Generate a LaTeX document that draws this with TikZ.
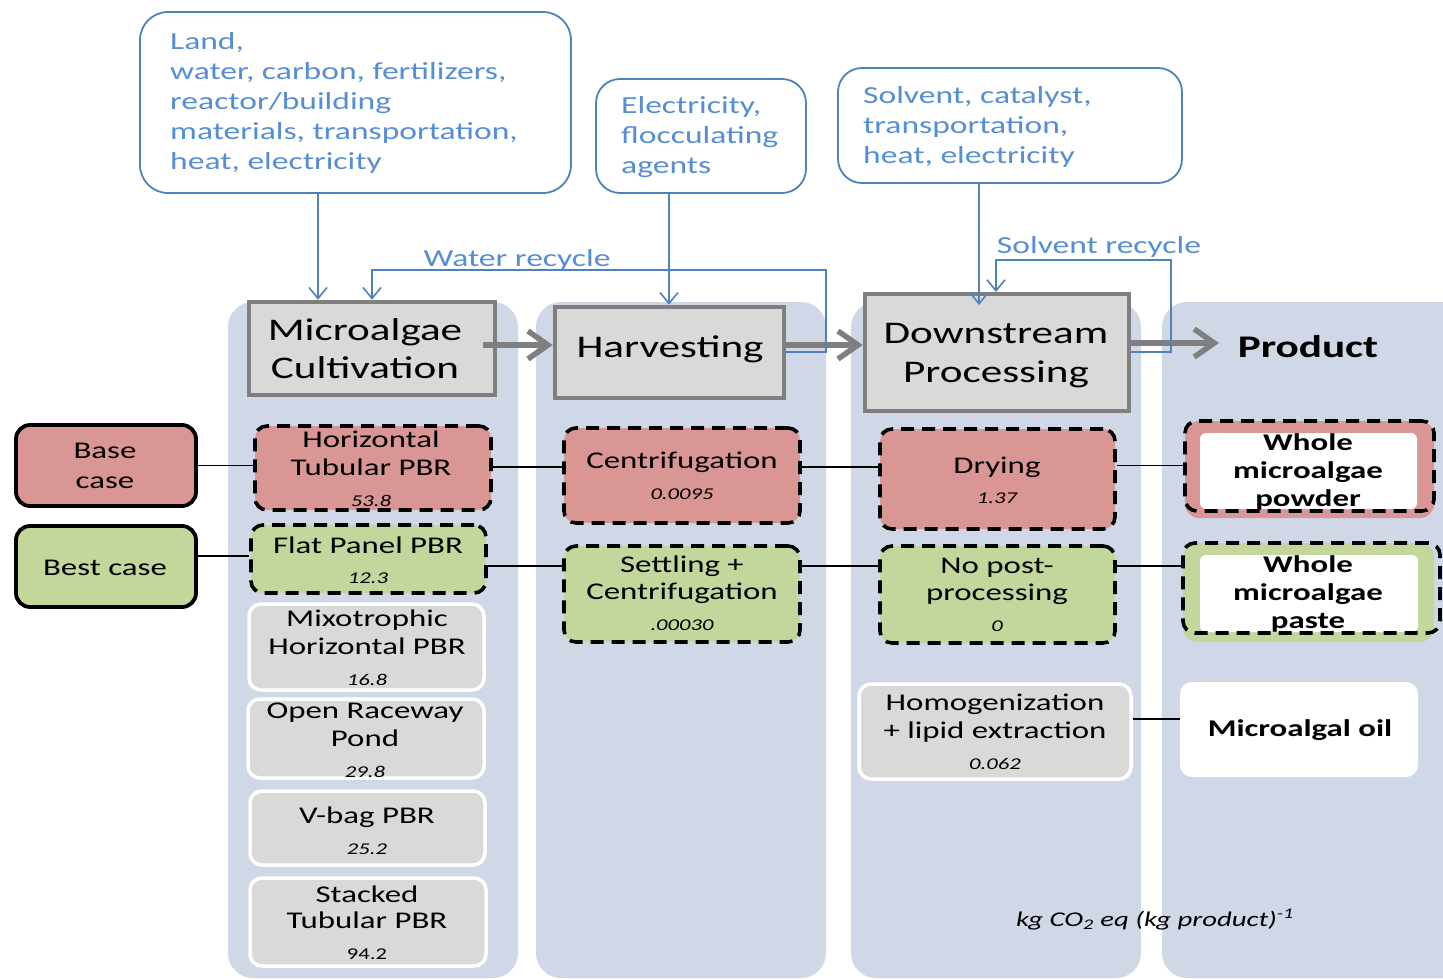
\documentclass[tikz,border=0pt]{standalone}
\usepackage{fontspec}
\setmainfont{Carlito}[FakeStretch=1.37]
\usetikzlibrary{arrows.meta}
\definecolor{colbg}{HTML}{D0D8E8}
\definecolor{boxgray}{HTML}{D9D9D9}
\definecolor{bordgray}{HTML}{7F7F7F}
\definecolor{bluel}{HTML}{4F81BD}
\definecolor{bluet}{HTML}{558ED5}
\definecolor{redf}{HTML}{D99694}
\definecolor{greenf}{HTML}{C3D69B}
\newcommand\fM{\fontsize{24}{28}\selectfont}
\newcommand\fBg{\fontsize{31.5}{38}\selectfont}
\newcommand\fNm{\fontsize{16.5}{18}\selectfont\itshape}
\newcommand\fNu{\fontsize{16.5}{18}\selectfont}
\newcommand\fTb{\fontsize{24.5}{30}\selectfont}
\newcommand\mkbox[6]{\node[#1, minimum width={#5-#3}, minimum height={#6-#4}] (#2) at ({(#3+#5)/2},{(#4+#6)/2}) {};}
\newcommand\tline[5]{\node[anchor=base, inner sep=0pt, font=#1] (#2) at (#3,#4) {#5};}
\newcommand\tlinew[5]{\node[anchor=base west, inner sep=0pt, font=#1, text=bluet] (#2) at (#3,#4) {#5};}
\begin{document}
\begin{tikzpicture}[x=1pt,y=-1pt,
  col/.style={fill=colbg, rounded corners=25pt},
  mainbox/.style={draw=bordgray, line width=4.5pt, fill=boxgray, inner sep=0pt},
  inbox/.style={draw=bluel, line width=1.8pt, fill=white, rounded corners=28pt, inner sep=0pt},
  casebox/.style={draw=black, line width=3.8pt, rounded corners=14pt, inner sep=0pt},
  dashbox/.style={draw=black, line width=3.6pt, dash pattern=on 13pt off 8pt, rounded corners=12pt, inner sep=0pt},
  graybox/.style={fill=boxgray, draw=white, line width=3.5pt, rounded corners=12pt, inner sep=0pt},
  plainfill/.style={rounded corners=#1, inner sep=0pt},
  conn/.style={draw=black, line width=1.5pt},
  blueln/.style={draw=bluel, line width=1.6pt},
  bluearr/.style={blueln, -{Straight Barb[length=11pt,width=18pt]}},
  grayarr/.style={draw=bordgray, line width=5.5pt, -{Straight Barb[length=20pt,width=28pt]}}
]
\useasboundingbox (0,0) rectangle (1443,979);
\fill[white] (0,0) rectangle (1443,979);
% columns
\fill[col] (228,302) rectangle (518,978);
\fill[col] (536,302) rectangle (826,978);
\fill[col] (851,302) rectangle (1141,978);
\fill[col] (1162,302) rectangle (1480,978);

% input boxes
\mkbox{inbox}{in1}{140}{12}{571}{193}
\mkbox{inbox, rounded corners=24pt}{in2}{596}{79}{806}{193}
\mkbox{inbox, rounded corners=24pt}{in3}{838}{68}{1182}{183}
\tlinew{\fTb}{in1a}{170}{50}{Land,}
\tlinew{\fTb}{in1b}{170}{80}{water, carbon, fertilizers,}
\tlinew{\fTb}{in1c}{170}{110}{reactor/building}
\tlinew{\fTb}{in1d}{170}{140}{materials, transportation,}
\tlinew{\fTb}{in1e}{170}{170}{heat, electricity}
\tlinew{\fTb}{in2a}{621}{114}{Electricity,}
\tlinew{\fTb}{in2b}{621}{144}{flocculating}
\tlinew{\fTb}{in2c}{621}{174}{agents}
\tlinew{\fTb}{in3a}{863}{104}{Solvent, catalyst,}
\tlinew{\fTb}{in3b}{863}{134}{transportation,}
\tlinew{\fTb}{in3c}{863}{164}{heat, electricity}

% main process boxes
\mkbox{mainbox}{cult}{249}{302}{495}{395}
\mkbox{mainbox}{harv}{555}{307}{784}{398}
\mkbox{mainbox}{down}{865}{294}{1129}{411}
\tline{\fBg}{cultA}{365}{340}{Microalgae}
\tline{\fBg}{cultB}{365}{378}{Cultivation}
\tline{\fBg}{harvA}{670}{357}{Harvesting}
\tline{\fBg}{downA}{996}{343}{Downstream}
\tline{\fBg}{downB}{996}{382}{Processing}
\tline{\fBg\bfseries}{prod}{1308}{357}{Product}

% helper coordinates
\coordinate (x318) at (318,0);
\coordinate (x372) at (372,0);
\coordinate (x669) at (669,0);
\coordinate (x979) at (979,0);
\coordinate (x996) at (996,0);
\coordinate (wy) at (0,352);
\coordinate (g1) at (483,345);
\coordinate (g2) at (786,345);
\coordinate (g3) at (1131,343);
\coordinate (g3e) at (1219,343);

% gray flow arrows
\draw[grayarr] (g1) -- (g1 -| harv.west);
\draw[grayarr] (g2) -- (g2 -| down.west);
\draw[grayarr] (g3) -- (g3e);

% blue arrows
\draw[bluearr] (in1.south -| x318) -- (cult.north -| x318);
\draw[bluearr] (harv.east |- wy) -- (826,352) -- (826,270) -- (372,270) -- (cult.north -| x372);
\draw[bluearr] (in2.south -| x669) -- (harv.north -| x669);
\draw[bluearr] (in3.south -| x979) -- (979,305);
\draw[bluearr] (down.east |- wy) -- (1171,352) -- (1171,260) -- (996,260) -- (996,292);
\node[anchor=base, inner sep=0pt, font=\fTb, text=bluet] (wrec) at (517,266) {Water recycle};
\node[anchor=base, inner sep=0pt, font=\fTb, text=bluet] (srec) at (1099,253) {Solvent recycle};

% case boxes
\mkbox{casebox, fill=redf}{base}{16}{425}{196}{506}
\mkbox{casebox, fill=greenf}{best}{16}{526}{196}{607}
\tline{\fM}{baseA}{105}{458}{Base}
\tline{\fM}{baseB}{105}{488}{case}
\tline{\fM}{bestA}{105}{575}{Best case}

% cultivation options
\mkbox{dashbox, fill=redf}{htp}{255}{426}{491}{510}
\mkbox{dashbox, fill=greenf}{fp}{251}{525}{486}{593}
\mkbox{graybox}{mixo}{249}{604}{484}{690}
\mkbox{graybox}{orp}{248}{699}{484}{778}
\mkbox{graybox}{vbag}{250}{791}{485}{865}
\mkbox{graybox}{stk}{250}{878}{486}{966}
\tline{\fM}{htpA}{371}{447}{Horizontal}
\tline{\fM}{htpB}{371}{475}{Tubular PBR}
\tline{\fNm}{htpC}{371}{506}{53.8}
\tline{\fM}{fpA}{368}{553}{Flat Panel PBR}
\tline{\fNm}{fpB}{368}{583}{12.3}
\tline{\fM}{mixoA}{367}{626}{Mixotrophic}
\tline{\fM}{mixoB}{367}{654}{Horizontal PBR}
\tline{\fNm}{mixoC}{367}{685}{16.8}
\tline{\fM}{orpA}{365}{718}{Open Raceway}
\tline{\fM}{orpB}{365}{746}{Pond}
\tline{\fNm}{orpC}{365}{777}{29.8}
\tline{\fM}{vbagA}{367}{823}{V-bag PBR}
\tline{\fNm}{vbagB}{367}{854}{25.2}
\tline{\fM}{stkA}{367}{902}{Stacked}
\tline{\fM}{stkB}{367}{928}{Tubular PBR}
\tline{\fNu}{stkC}{367}{959}{94.2}

% harvesting options
\mkbox{dashbox, fill=redf}{cen}{564}{428}{800}{523}
\mkbox{dashbox, fill=greenf}{set}{564}{546}{800}{642}
\tline{\fM}{cenA}{682}{468}{Centrifugation}
\tline{\fNm}{cenB}{682}{499}{0.0095}
\tline{\fM}{setA}{682}{572}{Settling +}
\tline{\fM}{setB}{682}{599}{Centrifugation}
\tline{\fNm}{setC}{682}{630}{.00030}

% downstream options
\mkbox{dashbox, fill=redf}{dry}{880}{429}{1115}{529}
\mkbox{dashbox, fill=greenf}{nop}{880}{546}{1115}{643}
\mkbox{graybox}{hom}{859}{684}{1131}{779}
\tline{\fM}{dryA}{997}{473}{Drying}
\tline{\fNm}{dryB}{997}{503}{1.37}
\tline{\fM}{nopA}{997}{573}{No post-}
\tline{\fM}{nopB}{997}{600}{processing}
\tline{\fNm}{nopC}{997}{631}{0}
\tline{\fM}{homA}{995}{710}{Homogenization}
\tline{\fM}{homB}{995}{738}{+ lipid extraction}
\tline{\fNm}{homC}{995}{769}{0.062}

% products
\mkbox{plainfill=14pt, fill=redf}{pwo}{1185}{421}{1434}{518}
\mkbox{plainfill=6pt, fill=white}{pwi}{1200}{433}{1417}{509}
\mkbox{dashbox}{pwd}{1185}{421}{1434}{511}
\mkbox{plainfill=14pt, fill=greenf}{pao}{1183}{543}{1434}{642}
\mkbox{plainfill=6pt, fill=white}{pai}{1200}{555}{1418}{632}
\mkbox{dashbox}{pad}{1183}{543}{1440}{633}
\mkbox{plainfill=12pt, fill=white}{oil}{1180}{682}{1418}{777}
\tline{\fM\bfseries}{pwA}{1308}{450}{Whole}
\tline{\fM\bfseries}{pwB}{1308}{478}{microalgae}
\tline{\fM\bfseries}{pwC}{1308}{506}{powder}
\tline{\fM\bfseries}{paA}{1308}{572}{Whole}
\tline{\fM\bfseries}{paB}{1308}{600}{microalgae}
\tline{\fM\bfseries}{paC}{1308}{628}{paste}
\tline{\fM\bfseries}{oilA}{1300}{736}{Microalgal oil}

% connectors
\coordinate (ybest) at (0,556);
\coordinate (yrow2) at (0,566);
\coordinate (yrow1) at (0,467);
\coordinate (yoil) at (0,719);
\draw[conn] (base.east) -- (base.east -| htp.west);
\draw[conn] (best.east |- ybest) -- (fp.west |- ybest);
\draw[conn] (htp.east |- yrow1) -- (cen.west |- yrow1);
\draw[conn] (cen.east |- yrow1) -- (dry.west |- yrow1);
\draw[conn] (dry.east |- base.east) -- (pwd.west |- base.east);
\draw[conn] (fp.east |- yrow2) -- (set.west |- yrow2);
\draw[conn] (set.east |- yrow2) -- (nop.west |- yrow2);
\draw[conn] (nop.east |- yrow2) -- (pad.west |- yrow2);
\draw[conn] (hom.east |- yoil) -- (oil.west |- yoil);

% unit
\node[anchor=base, inner sep=0pt, font=\fontsize{21}{24}\selectfont\itshape] (unit) at (1155,926) {kg CO\textsubscript{2} eq (kg product)\textsuperscript{-1}};
\end{tikzpicture}
\end{document}
